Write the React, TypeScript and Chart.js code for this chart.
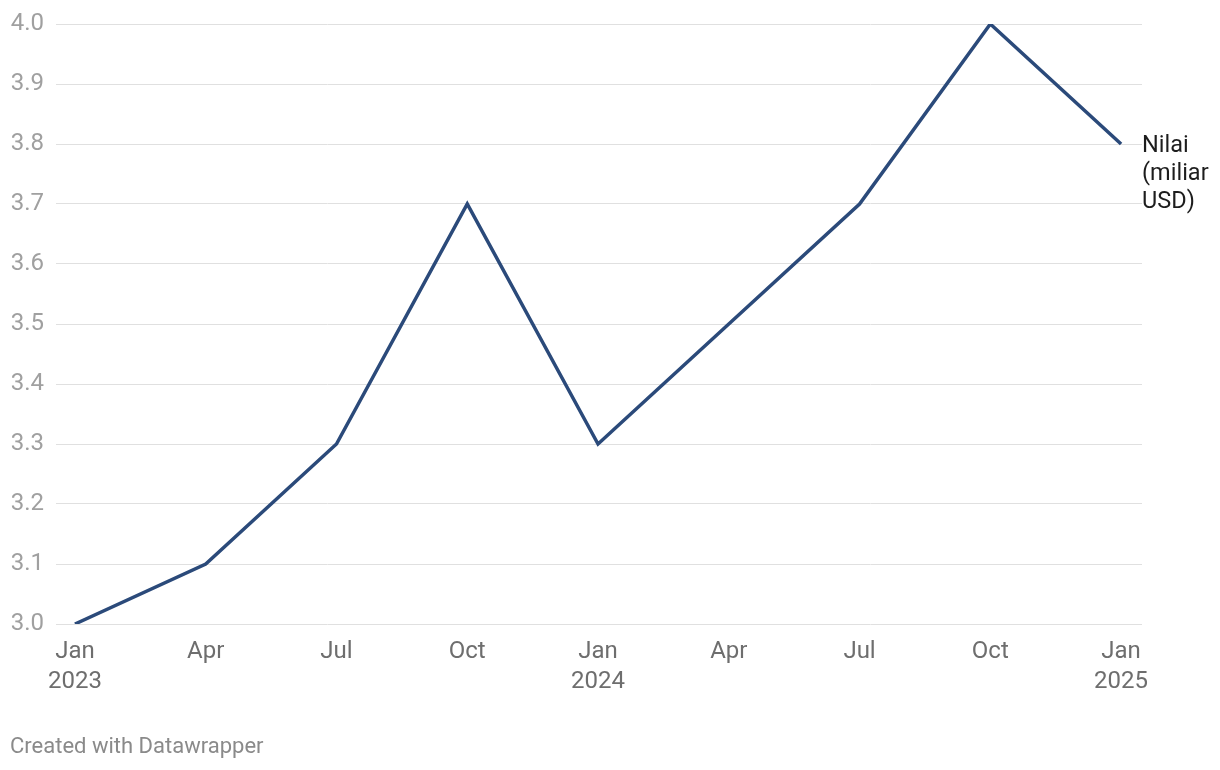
import React, { useEffect, useRef } from "react";
import { Chart, registerables } from "chart.js";

Chart.register(...registerables);

const categories: string[][] = [
  ["Jan", "2023"], ["Apr"], ["Jul"], ["Oct"], ["Jan", "2024"], ["Apr"], ["Jul"], ["Oct"], ["Jan", "2025"],
];
const values: number[] = [3.0, 3.1, 3.3, 3.7, 3.3, 3.5, 3.7, 4.0, 3.8];
const yTicks: number[] = [3.0, 3.1, 3.2, 3.3, 3.4, 3.5, 3.6, 3.7, 3.8, 3.9, 4.0];
const seriesLabel: string[] = ["Nilai", "(miliar", "USD)"];
const footer = "Created with Datawrapper";

const FONT = "Roboto, 'Noto Sans', sans-serif";
const LINE_COLOR = "#2b4a7a";

export default function App() {
  const ref = useRef<HTMLCanvasElement | null>(null);

  useEffect(() => {
    if (!ref.current) return;
    const labelPlugin = {
      id: "extras",
      afterDatasetsDraw(chart: any) {
        const ctx = chart.ctx;
        const meta = chart.getDatasetMeta(0);
        const last = meta.data[meta.data.length - 1];
        ctx.save();
        ctx.font = `23.5px ${FONT}`;
        ctx.fillStyle = "#1d1d1d";
        ctx.textAlign = "left";
        ctx.textBaseline = "middle";
        seriesLabel.forEach((t, i) => {
          ctx.fillText(t, last.x + 21, last.y + 2 + i * 28);
        });
        ctx.font = `22px ${FONT}`;
        ctx.fillStyle = "#8a8a8a";
        ctx.textBaseline = "middle";
        ctx.fillText(footer, 10, 747);
        ctx.restore();
      },
    };

    const chart = new Chart(ref.current, {
      type: "line",
      data: {
        datasets: [
          {
            data: values.map((v, i) => ({ x: i, y: v })),
            borderColor: LINE_COLOR,
            borderWidth: 3.5,
            pointRadius: 0,
            tension: 0,
            fill: false,
          },
        ],
      },
      options: {
        animation: false,
        responsive: false,
        maintainAspectRatio: false,
        layout: { padding: { top: 24, right: 78, bottom: 0, left: 0 } },
        plugins: { legend: { display: false }, tooltip: { enabled: false } },
        scales: {
          x: {
            type: "linear",
            min: -0.145,
            max: 8.16,
            grid: { display: false, drawTicks: false },
            border: { display: false },
            afterBuildTicks: (scale: any) => {
              scale.ticks = categories.map((_, i) => ({ value: i }));
            },
            afterFit: (scale: any) => {
              scale.height = 146;
              scale.paddingLeft = 0;
              scale.paddingRight = 0;
            },
            ticks: {
              autoSkip: false,
              maxRotation: 0,
              padding: 13,
              color: "#6e6e6e",
              font: { family: FONT, size: 24, lineHeight: 1.25 },
              callback: (v: any) => categories[Math.round(Number(v))] ?? "",
            },
          },
          y: {
            min: 3.0,
            max: 4.0,
            grid: { color: "#e0e0e0", lineWidth: 1, drawTicks: false },
            border: { display: false },
            afterBuildTicks: (scale: any) => {
              scale.ticks = yTicks.map((v) => ({ value: v }));
            },
            afterFit: (scale: any) => {
              scale.width = 56;
              scale.paddingTop = 0;
              scale.paddingBottom = 0;
            },
            ticks: {
              padding: 12,
              color: "#a0a0a0",
              font: { family: FONT, size: 24 },
              callback: (v: any) => Number(v).toFixed(1),
            },
          },
        },
      },
      plugins: [labelPlugin],
    } as any);
    return () => chart.destroy();
  }, []);

  return (
    <div style={{ position: "absolute", left: 0, top: 0, width: 1220, height: 770, background: "#fff" }}>
      <canvas ref={ref} width={1220} height={770} style={{ width: 1220, height: 770, display: "block" }} />
    </div>
  );
}
